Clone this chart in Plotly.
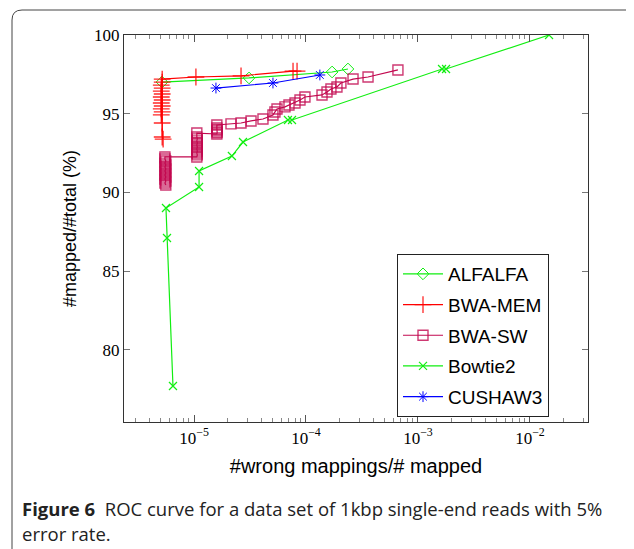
import plotly.graph_objects as go

# ---- data ----
alfalfa_x = [5.18e-6, 3.10e-5, 1.71e-4, 2.37e-4]
alfalfa_y = [97.01, 97.27, 97.65, 97.84]

bwamem_x = [5.3e-6, 5.2e-6, 5.2e-6, 5.1e-6, 5.2e-6, 5.1e-6, 5.2e-6, 5.1e-6, 5.2e-6,
            5.1e-6, 5.2e-6, 5.1e-6, 5.2e-6, 5.1e-6, 5.2e-6, 5.2e-6,
            1.04e-5, 2.63e-5, 7.66e-5, 8.32e-5]
bwamem_y = [93.39, 93.52, 94.41, 94.92, 95.11, 95.30, 95.49, 95.68, 95.87,
            96.06, 96.25, 96.44, 96.63, 96.82, 97.01, 97.20,
            97.33, 97.40, 97.71, 97.71]

bwasw_x = [5.6e-6, 5.5e-6, 5.6e-6, 5.5e-6, 5.6e-6, 5.5e-6, 5.6e-6, 5.5e-6,
           5.6e-6, 5.5e-6, 5.6e-6, 5.5e-6, 5.6e-6, 5.5e-6, 5.5e-6,
           1.06e-5, 1.07e-5, 1.06e-5, 1.07e-5, 1.06e-5, 1.07e-5, 1.06e-5,
           1.07e-5, 1.06e-5, 1.07e-5, 1.06e-5, 1.06e-5,
           1.60e-5, 1.61e-5, 1.60e-5, 1.61e-5, 1.60e-5, 1.60e-5,
           2.14e-5, 2.63e-5, 3.23e-5, 4.13e-5, 5.07e-5, 5.28e-5, 5.51e-5,
           6.49e-5, 7.05e-5, 7.98e-5, 8.84e-5, 9.79e-5, 1.39e-4, 1.54e-4,
           1.67e-4, 1.89e-4, 2.05e-4, 2.63e-4, 3.58e-4, 6.62e-4]
bwasw_y = [90.47, 90.60, 90.72, 90.85, 90.98, 91.10, 91.23, 91.36,
           91.49, 91.61, 91.74, 91.86, 91.99, 92.12, 92.25,
           92.25, 92.38, 92.50, 92.63, 92.76, 92.88, 93.01,
           93.14, 93.27, 93.40, 93.52, 93.77,
           93.71, 93.80, 93.90, 94.00, 94.09, 94.28,
           94.35, 94.41, 94.54, 94.66, 94.92, 95.11, 95.30,
           95.43, 95.55, 95.68, 95.87, 96.06, 96.19, 96.38,
           96.57, 96.70, 96.95, 97.20, 97.33, 97.78]

bowtie2_x = [6.49e-6, 5.74e-6, 5.62e-6, 1.11e-5, 1.11e-5, 2.18e-5, 2.74e-5,
             6.9e-5, 7.5e-5, 1.64e-3, 1.78e-3, 1.48e-2]
bowtie2_y = [77.70, 87.10, 89.01, 90.34, 91.36, 92.31, 93.20,
             94.60, 94.60, 97.84, 97.84, 100.0]

cushaw3_x = [1.57e-5, 5.07e-5, 1.33e-4]
cushaw3_y = [96.63, 96.95, 97.46]

x_tick_vals = [1e-5, 1e-4, 1e-3, 1e-2]
x_tick_text = ["10<sup>\u22125</sup>", "10<sup>\u22124</sup>",
               "10<sup>\u22123</sup>", "10<sup>\u22122</sup>"]
y_tick_vals = [80, 85, 90, 95, 100]

# ---- layout geometry ----
# The page body adds an 8px margin, so figure pixels = target pixels - 8.
OFF = 8
W, H = 634 - OFF, 549 - OFF
L, R, T, B = 124 - OFF, 588 - OFF, 35 - OFF, 422 - OFF


def px(x):  # target pixel -> paper x
    return (x - OFF - L) / (R - L)


def py(y):  # target pixel -> paper y
    return (B - (y - OFF)) / (B - T)


minor_vals = []
for k in range(-6, -1):
    for m in range(2, 10):
        v = m * 10 ** k
        if 2.4e-6 <= v <= 0.033:
            minor_vals.append(v)

GREEN = "#11ee11"
RED = "#ff0000"
CRIM = "#c2084f"
BLUE = "#0000ff"

fig = go.Figure()

fig.add_trace(go.Scatter(
    x=alfalfa_x, y=alfalfa_y, mode="lines+markers", name="ALFALFA",
    legendgroup="a",
    line=dict(color=GREEN, width=1.2),
    marker=dict(symbol="diamond-open", size=9, color=GREEN,
                line=dict(color=GREEN, width=1))))

fig.add_trace(go.Scatter(
    x=bwamem_x, y=bwamem_y, mode="lines+markers", name="BWA-MEM",
    legendgroup="b",
    line=dict(color=RED, width=1.2),
    marker=dict(symbol="cross-thin-open", size=12, color=RED, opacity=0.85,
                line=dict(color=RED, width=1.3))))

fig.add_trace(go.Scatter(
    x=bwasw_x, y=bwasw_y, mode="lines+markers", name="BWA-SW",
    legendgroup="c",
    line=dict(color=CRIM, width=1.2),
    marker=dict(symbol="square-open", size=10, color=CRIM, opacity=0.8,
                line=dict(color=CRIM, width=1.4))))

fig.add_trace(go.Scatter(
    x=bowtie2_x, y=bowtie2_y, mode="lines+markers", name="Bowtie2",
    legendgroup="d",
    line=dict(color=GREEN, width=1.2),
    marker=dict(symbol="x-thin-open", size=8, color=GREEN,
                line=dict(color=GREEN, width=1.2))))

fig.add_trace(go.Scatter(
    x=cushaw3_x, y=cushaw3_y, mode="lines+markers", name="CUSHAW3",
    legendgroup="e",
    line=dict(color=BLUE, width=1.2),
    marker=dict(symbol="asterisk-open", size=9, color=BLUE,
                line=dict(color=BLUE, width=1))))

serif = "Liberation Serif, Times New Roman, serif"
sans = "Liberation Sans, Arial, sans-serif"

fig.update_layout(
    width=W, height=H,
    margin=dict(l=L, r=W - R, t=T, b=H - B, autoexpand=False),
    paper_bgcolor="white", plot_bgcolor="white",
    showlegend=True,
    legend=dict(x=px(397), y=py(254), xanchor="left", yanchor="top",
                bordercolor="#222", borderwidth=1, bgcolor="white",
                font=dict(family=sans, size=19, color="black"),
                tracegroupgap=3, itemwidth=40),
    xaxis=dict(type="log", range=[-5.625, -1.482],
               tickmode="array", tickvals=x_tick_vals, ticktext=x_tick_text,
               ticks="inside", ticklen=7, tickcolor="#555", tickwidth=1,
               showline=True, linecolor="#333", linewidth=1.3, mirror="ticks",
               showgrid=False, zeroline=False,
               tickfont=dict(family=serif, size=17, color="black"),
               minor=dict(tickmode="array", tickvals=minor_vals, ticks="inside",
                          ticklen=4, tickcolor="#888", tickwidth=1, showgrid=False),
               title=dict(text="#wrong mappings/# mapped",
                          font=dict(family=sans, size=20, color="black"),
                          standoff=12)),
    yaxis=dict(range=[75.41, 100],
               tickmode="array", tickvals=y_tick_vals,
               ticks="inside", ticklen=6, tickcolor="#777", tickwidth=1,
               showline=True, linecolor="#333", linewidth=1.3, mirror="ticks",
               showgrid=False, zeroline=False,
               tickfont=dict(family=serif, size=17, color="black"),
               title=dict(text="#mapped/#total (%)",
                          font=dict(family=sans, size=18, color="black"),
                          standoff=12)),
)

# Figure frame (top + left edge with a rounded corner)
path = (f"M {px(12)},{py(560)} L {px(12)},{py(20)} "
        f"Q {px(12)},{py(10)} {px(22)},{py(10)} L {px(640)},{py(10)}")
fig.add_shape(type="path", path=path, xref="paper", yref="paper",
              line=dict(color="#444", width=1))

cap_font = "Open Sans, Noto Sans, sans-serif"
fig.add_annotation(
    xref="paper", yref="paper", x=px(20), y=py(508),
    xanchor="left", yanchor="middle", showarrow=False, align="left",
    text="<b>Figure 6</b>  ROC curve for a data set of 1kbp single-end reads with 5%",
    font=dict(family=cap_font, size=18.5, color="#222"))
fig.add_annotation(
    xref="paper", yref="paper", x=px(20), y=py(533),
    xanchor="left", yanchor="middle", showarrow=False, align="left",
    text="error rate.",
    font=dict(family=cap_font, size=18.5, color="#222"))

fig.write_html("out.html")
